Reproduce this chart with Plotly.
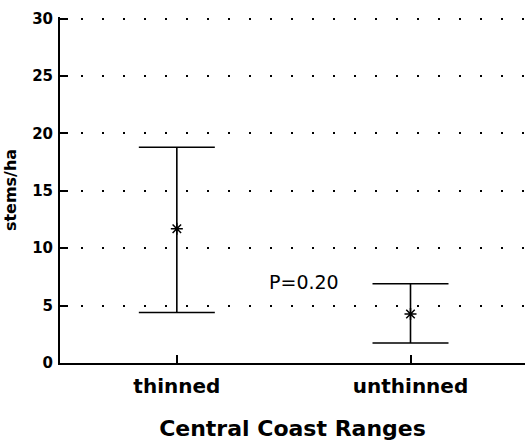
import plotly.graph_objects as go

categories = ["thinned", "unthinned"]
means = [11.7, 4.27]
upper = [18.8, 6.9]
lower = [4.4, 1.74]
y_ticks = [0, 5, 10, 15, 20, 25, 30]

err_plus = [u - m for u, m in zip(upper, means)]
err_minus = [m - l for m, l in zip(means, lower)]

FONT = "DejaVu Sans, Arial, sans-serif"

fig = go.Figure()
fig.add_trace(go.Scatter(
    x=categories, y=means, mode="markers",
    marker=dict(symbol="asterisk-open", size=10, color="black", line=dict(width=1.5, color="black")),
    error_y=dict(type="data", symmetric=False, array=err_plus, arrayminus=err_minus,
                 color="black", thickness=1.6, width=38),
    showlegend=False,
))
fig.add_annotation(x=0.545, y=7.1, xref="x", yref="y", text="P=0.20", showarrow=False,
                   xanchor="center", yanchor="middle",
                   font=dict(family=FONT, size=19, color="black"))

fig.update_layout(
    width=525, height=445,
    margin=dict(l=60, r=0, t=17, b=82),
    paper_bgcolor="white", plot_bgcolor="white",
    font=dict(family=FONT, color="black"),
    xaxis=dict(
        type="category", range=[-0.5, 1.49],
        showline=True, linecolor="black", linewidth=2,
        ticks="inside", ticklen=8, tickwidth=1.5, tickcolor="black",
        showgrid=False, zeroline=False,
        tickfont=dict(size=20, family=FONT), ticklabelstandoff=4,
        ticktext=["<b>thinned</b>", "<b>unthinned</b>"], tickvals=categories,
        title=dict(text="<b>Central Coast Ranges</b>", font=dict(size=22), standoff=24),
    ),
    yaxis=dict(
        range=[0, 30.15], tickvals=y_ticks, ticktext=[f"<b>{t}</b>" for t in y_ticks],
        showline=True, linecolor="black", linewidth=2,
        ticks="inside", ticklen=8, tickwidth=2, tickcolor="black",
        showgrid=True, gridcolor="black", gridwidth=2, griddash="2px,19px",
        zeroline=False,
        tickfont=dict(size=15), ticklabelstandoff=2,
        title=dict(text="<b>stems/ha</b>", font=dict(size=16), standoff=12),
    ),
)
fig.write_html("out.html")
